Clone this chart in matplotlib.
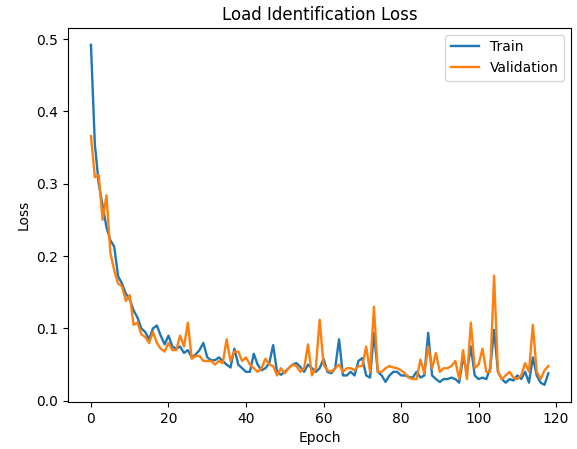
import numpy as np
import matplotlib.pyplot as plt

# loss values, one per epoch (0..118)
train_loss = [
    0.492, 0.355, 0.300, 0.270, 0.240, 0.222, 0.213, 0.172, 0.162, 0.148,
    0.140, 0.125, 0.115, 0.100, 0.095, 0.085, 0.100, 0.104, 0.090, 0.078,
    0.090, 0.075, 0.072, 0.075, 0.066, 0.070, 0.060, 0.064, 0.070, 0.080,
    0.060, 0.056, 0.056, 0.060, 0.055, 0.050, 0.046, 0.072, 0.050, 0.045,
    0.040, 0.040, 0.065, 0.050, 0.042, 0.045, 0.052, 0.077, 0.040, 0.036,
    0.040, 0.045, 0.050, 0.052, 0.047, 0.040, 0.050, 0.045, 0.040, 0.045,
    0.058, 0.040, 0.038, 0.045, 0.085, 0.035, 0.035, 0.040, 0.035, 0.055,
    0.059, 0.035, 0.032, 0.094, 0.040, 0.035, 0.026, 0.035, 0.040, 0.040,
    0.035, 0.035, 0.033, 0.032, 0.040, 0.032, 0.035, 0.094, 0.035, 0.030,
    0.026, 0.030, 0.030, 0.032, 0.030, 0.025, 0.060, 0.040, 0.075, 0.035,
    0.030, 0.032, 0.030, 0.045, 0.098, 0.040, 0.030, 0.025, 0.030, 0.028,
    0.035, 0.030, 0.040, 0.025, 0.060, 0.035, 0.025, 0.022, 0.038,
]
val_loss = [
    0.366, 0.309, 0.312, 0.250, 0.284, 0.205, 0.180, 0.162, 0.158, 0.138,
    0.146, 0.105, 0.108, 0.092, 0.088, 0.080, 0.095, 0.080, 0.072, 0.068,
    0.080, 0.070, 0.070, 0.090, 0.075, 0.108, 0.058, 0.062, 0.062, 0.055,
    0.055, 0.055, 0.050, 0.055, 0.052, 0.085, 0.055, 0.068, 0.068, 0.055,
    0.060, 0.050, 0.045, 0.040, 0.045, 0.058, 0.050, 0.048, 0.035, 0.045,
    0.038, 0.045, 0.050, 0.048, 0.040, 0.045, 0.078, 0.035, 0.045, 0.112,
    0.050, 0.042, 0.040, 0.045, 0.050, 0.040, 0.045, 0.045, 0.042, 0.048,
    0.048, 0.075, 0.040, 0.130, 0.040, 0.040, 0.045, 0.048, 0.046, 0.045,
    0.042, 0.038, 0.032, 0.030, 0.030, 0.057, 0.038, 0.075, 0.045, 0.066,
    0.040, 0.045, 0.045, 0.048, 0.055, 0.030, 0.070, 0.030, 0.108, 0.045,
    0.050, 0.072, 0.040, 0.040, 0.173, 0.040, 0.030, 0.035, 0.040, 0.032,
    0.030, 0.035, 0.052, 0.040, 0.105, 0.040, 0.030, 0.042, 0.048,
]
epochs = np.arange(len(train_loss))

fig = plt.figure(figsize=(5.77, 4.49), dpi=100)
ax = fig.add_subplot(111)
fig.subplots_adjust(left=0.118, right=0.99, top=0.938, bottom=0.105)
ax.plot(epochs, train_loss, label='Train', linewidth=1.7)
ax.plot(epochs, val_loss, label='Validation', linewidth=1.7)
ax.set_title('Load Identification Loss')
ax.set_xlabel('Epoch')
ax.set_ylabel('Loss')
ax.legend()
plt.savefig('out.png')
